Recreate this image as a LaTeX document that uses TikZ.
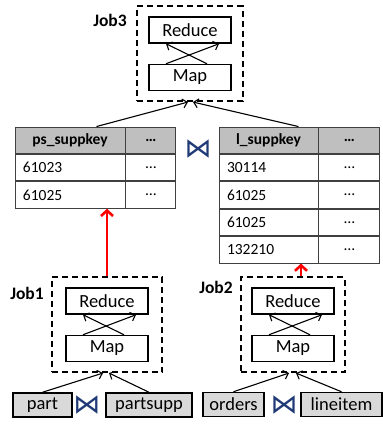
\documentclass[tikz,border=0pt]{standalone}
\usepackage{fontspec}
\setmainfont{Carlito}
\newfontfamily\joinfont{DejaVu Sans}
\usetikzlibrary{positioning, fit, arrows.meta}

\definecolor{joinblue}{HTML}{1F3A76}
\definecolor{headgrey}{HTML}{BFBFBF}
\definecolor{relgrey}{HTML}{D9D9D9}
\definecolor{tabline}{HTML}{404040}

\tikzset{
  phase/.style={draw, line width=1.5pt, minimum width=82pt, minimum height=26pt, inner sep=0pt, font=\fontsize{18.5}{20}\selectfont},
  jobbox/.style={draw, line width=1.6pt, dash pattern=on 6pt off 4pt, inner ysep=10pt},
  joblabel/.style={font=\fontsize{17.5}{19}\selectfont\bfseries},
  relation/.style={draw, fill=relgrey, line width=1.5pt, minimum height=24pt, inner sep=0pt, font=\fontsize{18.5}{20}\selectfont},
  cell/.style={draw=tabline, line width=0.9pt, minimum height=26.5pt, inner sep=0pt, font=\fontsize{15.5}{17}\selectfont},
  headcell/.style={cell, fill=headgrey, font=\fontsize{15.5}{17}\selectfont\bfseries},
  valcell/.style={cell, align=left, inner xsep=8pt},
  joinsym/.style={text=joinblue, inner sep=0pt, font=\fontsize{27}{27}\joinfont},
  flow/.style={-{Straight Barb[length=4.5pt,width=9pt]}, line width=1.1pt},
  result/.style={-{Straight Barb[length=5.5pt,width=12pt]}, red, line width=2.6pt},
}

\begin{document}
\begin{tikzpicture}[x=1pt, y=-1pt]
\useasboundingbox (0,0) rectangle (383,424);

% Job3 on top
\node[phase] (reduce3) at (190,30) {Reduce};
\node[phase, below=20pt of reduce3] (map3) {Map};
\node[jobbox, inner xsep=11pt, fit=(reduce3) (map3)] (job3) {};
\node[joblabel] (job3lbl) at (110,20) {Job3};
\draw[flow] ([xshift=-24pt]map3.north) -- ([xshift=29pt]reduce3.south);
\draw[flow] ([xshift=17pt]map3.north) -- ([xshift=-24pt]reduce3.south);

% left table
\node[headcell, minimum width=110pt] (ps0) at (70,140.25) {ps\_suppkey};
\node[headcell, minimum width=50pt, right=0pt of ps0] (psx0) {…};
\foreach \v [count=\i, remember=\i as \j (initially 0)] in {61023,61025} {
  \node[valcell, text width=94pt, below=0pt of ps\j] (ps\i) {\v};
  \node[cell, minimum width=50pt, right=0pt of ps\i] (psx\i) {…};
}

% right table
\node[headcell, minimum width=99pt] (l0) at (268.5,140.25) {l\_suppkey};
\node[headcell, minimum width=61pt, right=0pt of l0] (lx0) {…};
\foreach \v [count=\i, remember=\i as \j (initially 0)] in {30114,61025,61025,132210} {
  \node[valcell, text width=83pt, below=0pt of l\j] (l\i) {\v};
  \node[cell, minimum width=61pt, right=0pt of l\i] (lx\i) {…};
}

\node[joinsym] (tabjoin) at (198,149) {⋈};
\draw[flow] ([xshift=-29pt]ps0.north east) -- ([xshift=-2pt]job3.south);
\draw[flow] ([xshift=-20pt]l0.north east) -- ([xshift=3pt]job3.south);

% Job1 and Job2
\node[phase] (reduce1) at (107,301) {Reduce};
\node[phase, below=20pt of reduce1] (map1) {Map};
\node[jobbox, inner xsep=13.5pt, fit=(reduce1) (map1)] (job1) {};
\node[joblabel] (job1lbl) at (27,293) {Job1};
\draw[flow] ([xshift=-24pt]map1.north) -- ([xshift=29pt]reduce1.south);
\draw[flow] ([xshift=17pt]map1.north) -- ([xshift=-24pt]reduce1.south);

\node[phase] (reduce2) at (293,301) {Reduce};
\node[phase, below=20pt of reduce2] (map2) {Map};
\node[jobbox, inner xsep=10pt, fit=(reduce2) (map2)] (job2) {};
\node[joblabel] (job2lbl) at (216,287) {Job2};
\draw[flow] ([xshift=-24pt]map2.north) -- ([xshift=29pt]reduce2.south);
\draw[flow] ([xshift=17pt]map2.north) -- ([xshift=-24pt]reduce2.south);

% results go up
\draw[result] (job1.north) -- (job1.north |- ps2.south);
\draw[result] ([xshift=8pt]job2.north) -- ([xshift=8pt]job2.north |- l4.south);

% base relations
\node[relation, minimum width=59pt] (part) at (42.5,405) {part};
\node[joinsym] (join1) at (87,405) {⋈};
\node[relation, minimum width=86pt] (partsupp) at (149,405) {partsupp};
\node[relation, minimum width=61pt] (orders) at (233.5,404.5) {orders};
\node[joinsym] (join2) at (284,405) {⋈};
\node[relation, minimum width=81pt] (lineitem) at (341.5,404.5) {lineitem};

\draw[flow] (part.north) -- ([xshift=-4pt]job1.south);
\draw[flow] (partsupp.north) -- ([xshift=2pt]job1.south);
\draw[flow] (orders.north) -- ([xshift=-4pt]job2.south);
\draw[flow] (lineitem.north) -- ([xshift=3pt]job2.south);
\end{tikzpicture}
\end{document}
